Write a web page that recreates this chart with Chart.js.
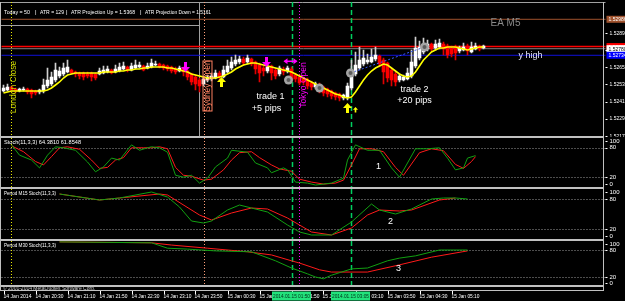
<!DOCTYPE html>
<html>
<head>
<meta charset="utf-8">
<title>EURAUD M5 with stochastics</title>
<script src="https://cdn.jsdelivr.net/npm/chart.js@4.4.1/dist/chart.umd.min.js"></script>
<style>
  html, body { margin: 0; padding: 0; background: #000; }
  #wrap { position: relative; width: 625px; height: 301px; background: #000; overflow: hidden; }
  #wrap canvas { position: absolute; left: 0; }
  .frame { position: absolute; background: #c0c0c0; }
</style>
</head>
<body>
<div id="wrap">
  <canvas id="main" width="625" height="137" style="top:0;width:625px;height:137px"></canvas>
  <canvas id="p1" width="625" height="51" style="top:137px;width:625px;height:51px"></canvas>
  <canvas id="p2" width="625" height="52" style="top:188px;width:625px;height:52px"></canvas>
  <canvas id="p3" width="625" height="61" style="top:240px;width:625px;height:61px"></canvas>
  <div class="frame" style="left:0;top:136px;width:604px;height:2px"></div>
  <div class="frame" style="left:0;top:187px;width:604px;height:2px"></div>
  <div class="frame" style="left:0;top:239px;width:604px;height:2px"></div>
  <div class="frame" style="left:0;top:285px;width:604px;height:1.5px"></div>
  <div class="frame" style="left:0;top:290px;width:604px;height:1px"></div>
  <div class="frame" style="left:0;top:2px;width:1px;height:288px"></div>
  <div class="frame" style="left:603px;top:2px;width:1px;height:288px"></div>
</div>
<script>
// 5 minute bars, 14 Jan 2014 19:50 .. 15 Jan 2014 05:50
const opens = [
  1.52484,1.52491,1.52512,1.52498,1.52484,1.52491,1.52498,1.52491,1.52484,1.52477,
  1.52484,1.52519,1.52533,1.52561,1.52589,1.52603,1.52617,1.52631,1.52617,1.52610,
  1.52610,1.52603,1.52610,1.52603,1.52603,1.52610,1.52617,1.52631,1.52617,1.52624,
  1.52638,1.52652,1.52631,1.52645,1.52652,1.52659,1.52645,1.52652,1.52666,1.52673,
  1.52666,1.52659,1.52652,1.52638,1.52624,1.52645,1.52624,1.52603,1.52582,1.52561,
  1.52533,1.52561,1.52568,1.52575,1.52610,1.52582,1.52617,1.52645,1.52673,1.52687,
  1.52708,1.52687,1.52708,1.52687,1.52666,1.52645,1.52624,1.52659,1.52631,1.52603,
  1.52638,1.52624,1.52638,1.52596,1.52582,1.52568,1.52561,1.52540,1.52512,1.52526,
  1.52512,1.52498,1.52484,1.52470,1.52463,1.52435,1.52442,1.52505,1.52603,1.52645,
  1.52673,1.52687,1.52687,1.52708,1.52729,1.52701,1.52680,1.52631,1.52603,1.52561,
  1.52561,1.52568,1.52589,1.52659,1.52715,1.52757,1.52778,1.52813,1.52785,1.52792,
  1.52813,1.52799,1.52785,1.52792,1.52764,1.52771,1.52799,1.52757,1.52778,1.52799,1.52785
];
const highs = [
  1.52526,1.52533,1.52519,1.52505,1.52505,1.52512,1.52505,1.52498,1.52491,1.52498,
  1.52568,1.52645,1.52617,1.52680,1.52652,1.52680,1.52701,1.52638,1.52624,1.52617,
  1.52617,1.52617,1.52617,1.52610,1.52645,1.52659,1.52659,1.52638,1.52666,1.52680,
  1.52687,1.52659,1.52680,1.52701,1.52687,1.52666,1.52680,1.52708,1.52694,1.52680,
  1.52673,1.52666,1.52659,1.52652,1.52659,1.52652,1.52631,1.52610,1.52596,1.52575,
  1.52589,1.52596,1.52610,1.52631,1.52624,1.52659,1.52701,1.52722,1.52736,1.52729,
  1.52722,1.52736,1.52715,1.52694,1.52680,1.52659,1.52666,1.52666,1.52645,1.52659,
  1.52652,1.52659,1.52652,1.52610,1.52596,1.52582,1.52575,1.52554,1.52547,1.52540,
  1.52519,1.52505,1.52491,1.52477,1.52470,1.52463,1.52540,1.52701,1.52757,1.52792,
  1.52771,1.52743,1.52778,1.52792,1.52736,1.52715,1.52687,1.52645,1.52617,1.52603,
  1.52596,1.52645,1.52771,1.52862,1.52834,1.52855,1.52841,1.52820,1.52841,1.52848,
  1.52827,1.52813,1.52799,1.52806,1.52799,1.52820,1.52813,1.52827,1.52820,1.52806,1.52806
];
const lows = [
  1.52477,1.52484,1.52477,1.52470,1.52477,1.52484,1.52463,1.52435,1.52456,1.52463,
  1.52470,1.52505,1.52519,1.52547,1.52575,1.52589,1.52610,1.52603,1.52582,1.52568,
  1.52561,1.52575,1.52554,1.52561,1.52596,1.52603,1.52610,1.52603,1.52610,1.52617,
  1.52631,1.52617,1.52624,1.52638,1.52645,1.52624,1.52638,1.52645,1.52659,1.52645,
  1.52631,1.52624,1.52610,1.52603,1.52617,1.52589,1.52561,1.52526,1.52491,1.52477,
  1.52519,1.52547,1.52554,1.52568,1.52561,1.52575,1.52610,1.52631,1.52659,1.52673,
  1.52666,1.52673,1.52659,1.52603,1.52547,1.52589,1.52610,1.52561,1.52568,1.52589,
  1.52596,1.52610,1.52547,1.52547,1.52526,1.52526,1.52498,1.52491,1.52498,1.52470,
  1.52449,1.52442,1.52428,1.52421,1.52414,1.52421,1.52421,1.52491,1.52589,1.52631,
  1.52659,1.52673,1.52680,1.52694,1.52652,1.52533,1.52547,1.52519,1.52519,1.52547,
  1.52554,1.52561,1.52575,1.52645,1.52701,1.52743,1.52764,1.52764,1.52771,1.52778,
  1.52736,1.52715,1.52722,1.52701,1.52750,1.52764,1.52736,1.52750,1.52771,1.52764,1.52778
];
const closes = [
  1.52505,1.52512,1.52491,1.52484,1.52498,1.52498,1.52477,1.52463,1.52470,1.52491,
  1.52526,1.52561,1.52582,1.52631,1.52624,1.52645,1.52652,1.52610,1.52603,1.52589,
  1.52582,1.52589,1.52582,1.52575,1.52624,1.52631,1.52638,1.52610,1.52638,1.52652,
  1.52659,1.52631,1.52659,1.52666,1.52666,1.52631,1.52659,1.52680,1.52673,1.52652,
  1.52645,1.52638,1.52624,1.52617,1.52645,1.52617,1.52582,1.52547,1.52533,1.52519,
  1.52568,1.52582,1.52589,1.52610,1.52582,1.52631,1.52659,1.52687,1.52701,1.52708,
  1.52680,1.52715,1.52673,1.52638,1.52610,1.52624,1.52652,1.52610,1.52589,1.52645,
  1.52617,1.52645,1.52561,1.52568,1.52540,1.52547,1.52519,1.52512,1.52533,1.52491,
  1.52470,1.52463,1.52449,1.52442,1.52435,1.52456,1.52519,1.52617,1.52666,1.52701,
  1.52715,1.52701,1.52722,1.52736,1.52673,1.52617,1.52575,1.52561,1.52547,1.52589,
  1.52582,1.52610,1.52687,1.52785,1.52792,1.52806,1.52813,1.52778,1.52813,1.52820,
  1.52778,1.52736,1.52743,1.52750,1.52785,1.52792,1.52764,1.52792,1.52799,1.52778,1.52799
];
const ma = [
  1.52470,1.52477,1.52484,1.52484,1.52484,1.52484,1.52484,1.52484,1.52484,1.52484,
  1.52484,1.52491,1.52505,1.52526,1.52547,1.52575,1.52596,1.52603,1.52610,1.52610,
  1.52610,1.52610,1.52610,1.52610,1.52610,1.52617,1.52617,1.52617,1.52617,1.52624,
  1.52624,1.52631,1.52631,1.52638,1.52638,1.52645,1.52645,1.52652,1.52652,1.52652,
  1.52652,1.52645,1.52645,1.52638,1.52631,1.52624,1.52617,1.52603,1.52596,1.52589,
  1.52582,1.52575,1.52575,1.52575,1.52582,1.52589,1.52603,1.52617,1.52638,1.52652,
  1.52666,1.52673,1.52680,1.52680,1.52673,1.52666,1.52659,1.52652,1.52645,1.52638,
  1.52631,1.52624,1.52617,1.52603,1.52589,1.52575,1.52561,1.52547,1.52533,1.52519,
  1.52505,1.52491,1.52477,1.52463,1.52456,1.52442,1.52435,1.52442,1.52477,1.52519,
  1.52561,1.52596,1.52624,1.52645,1.52659,1.52673,1.52666,1.52645,1.52624,1.52603,
  1.52589,1.52582,1.52589,1.52617,1.52659,1.52701,1.52729,1.52757,1.52771,1.52785,
  1.52785,1.52792,1.52792,1.52792,1.52785,1.52778,1.52771,1.52778,1.52785,1.52792,1.52792
];

// stochastic lines: bar index of each vertex and its value
const m5KBars = [2,4,7,9,11,13,15,18,21,23,25,27,29,32,34,36,37,39,41,43,45,47,49,51,53,56,57,61,63,66,67,70,71,73,76,78,82,85,86,88,91,94,97,99,103,106,109,111,113,115,116,118];
const m5K     = [86,65,55,39,65,82,80,75,51,31,41,59,55,86,75,80,82,80,71,24,20,24,8,18,41,59,75,71,49,39,29,39,35,10,8,4,8,18,55,86,75,75,39,20,78,78,80,59,35,39,59,64];
const m5DBars = [2,5,8,10,12,14,16,19,22,24,26,28,30,32,35,37,39,41,43,45,47,50,52,55,57,59,62,64,67,69,72,74,77,80,83,85,87,89,92,95,98,100,104,107,110,113,115,117,118];
const m5D     = [84,72,52,45,62,80,82,77,55,38,40,55,60,80,80,80,82,78,40,24,22,14,16,35,55,70,72,60,45,37,32,16,10,6,8,14,45,78,78,72,40,24,70,78,74,46,38,52,62];
const m15KBars = [14,24,29,37,41,44,47,50,52,56,59,62,66,71,74,77,82,87,92,94,98,102,107,110,113,116];
const m15K     = [90,78,82,94,84,64,36,32,36,58,68,62,54,28,14,8,8,34,70,58,50,60,80,82,82,80];
const m15DBars = [14,24,29,39,41,49,52,57,62,66,71,74,77,82,87,91,94,99,102,109,113];
const m15D     = [90,78,82,90,88,48,38,52,62,60,42,28,14,8,22,48,58,56,58,78,82];
const m30KBars = [14,37,41,46,53,62,68,72,76,78,80,82,87,91,96,99,103,109,116];
const m30K     = [98,96,84,82,78,76,56,40,27,20,16,24,38,40,56,62,67,80,80];
const m30DBars = [14,37,42,51,61,67,72,74,79,82,91,99,107,116];
const m30D     = [98,96,91,84,76,69,56,51,36,31,31,47,64,78];

// axes
const priceTicks = [1.52170, 1.52290, 1.52410, 1.52530, 1.52650, 1.52770, 1.52890];
const stochTicks = [100, 80, 20, 0];
const stochLevels = [80, 20];
const timeTickBars = [0, 8, 16, 24, 32, 40, 48, 56, 64, 72, 80, 88, 96, 104, 112];
const timeLabels = ['14 Jan 2014', '14 Jan 20:30', '14 Jan 21:10', '14 Jan 21:50', '14 Jan 22:30', '14 Jan 23:10',
  '14 Jan 23:50', '15 Jan 00:30', '15 Jan 01:10', '15 Jan 01:50', '15 Jan 02:30', '15 Jan 03:10',
  '15 Jan 03:50', '15 Jan 04:30', '15 Jan 05:10'];

// horizontal levels: EA M5, red level, bid, y high
const levelPrices = [1.52986, 1.52795, 1.52780, 1.52734];
// vertical lines: London Close, Sydney Open, entry 1, Tokyo Open, entry 2
const markerBars = [1.75, 50, 72, 73.75, 86.75];
const markerTimes = ['', '', '2014.01.15 01:50', '', '2014.01.15 03:05'];

// trade objects
const tradeBars = [71.25, 79, 86.75, 105.25];
const tradePrices = [1.52561, 1.52505, 1.52610, 1.52792];
const sellBars = [45.5, 65.75];
const sellPrices = [1.52617, 1.52652];
const buyBars = [54.5, 86];
const buyPrices = [1.52582, 1.52400];
const noteTexts = ['trade 1', '+5 pips', 'trade 2', '+20 pips', 'EA M5', 'y high'];
const noteBars = [66.75, 65.75, 102.75, 102.75, 125.5, 131.75];
const notePrices = [1.52442, 1.52358, 1.52491, 1.52414, 1.52960, 1.52729];
const sessionTexts = ['London Close', 'Sydney Open', 'Tokyo Open'];
const sessionBars = [2.6, 51, 75];
const sessionPrices = [1.52512, 1.52519, 1.52526];

const FONT = '"Liberation Sans", Arial, sans-serif';
const levelStyle = [
  { color: '#a0522d', width: 1, tag: '#a0522d', text: '#ffffff' },
  { color: '#ff0000', width: 1.5, tag: '#ff0000', text: '#ffffff' },
  { color: '#808080', width: 1, tag: '#ffffff', text: '#000000' },
  { color: '#1010d8', width: 1, tag: '#0000ff', text: '#ffffff' }
];
const markerStyle = [
  { color: '#e6e600', width: 1, dash: [1, 2] },
  { color: '#ffa07a', width: 1, dash: [1, 2] },
  { color: '#00d060', width: 1.5, dash: [5, 3] },
  { color: '#ff00ff', width: 1, dash: [1, 2] },
  { color: '#00d060', width: 1.5, dash: [5, 3] }
];
const sessionColors = ['#c8d200', '#ff8060', '#ff00ff'];

const barIdx = opens.map((_, i) => i);
const isUp = barIdx.map(i => closes[i] >= opens[i]);

function pairs(bars, vals) { return bars.map((b, i) => ({ x: b, y: vals[i] })); }

function hline(ctx, y, x0, x1, color, width, dash) {
  ctx.strokeStyle = color; ctx.lineWidth = width; ctx.setLineDash(dash || []);
  ctx.beginPath(); ctx.moveTo(x0, y); ctx.lineTo(x1, y); ctx.stroke();
}
function vline(ctx, x, y0, y1, color, width, dash) {
  ctx.strokeStyle = color; ctx.lineWidth = width; ctx.setLineDash(dash || []);
  ctx.beginPath(); ctx.moveTo(x, y0); ctx.lineTo(x, y1); ctx.stroke();
}
function drawMarkers(chart) {
  const { ctx, chartArea: a, scales: { x } } = chart;
  markerBars.forEach((b, k) => {
    const px = Math.round(x.getPixelForValue(b)) + 0.5;
    const s = markerStyle[k];
    vline(ctx, px, a.top, a.bottom, s.color, s.width, s.dash);
  });
  ctx.setLineDash([]);
}
function arrow(ctx, x, tipY, dir, color, s) {
  // dir = 1 points down, -1 points up
  ctx.fillStyle = color;
  ctx.beginPath();
  ctx.moveTo(x, tipY);
  ctx.lineTo(x - 4.5 * s, tipY - dir * 5 * s);
  ctx.lineTo(x - 1.5 * s, tipY - dir * 5 * s);
  ctx.lineTo(x - 1.5 * s, tipY - dir * 10 * s);
  ctx.lineTo(x + 1.5 * s, tipY - dir * 10 * s);
  ctx.lineTo(x + 1.5 * s, tipY - dir * 5 * s);
  ctx.lineTo(x + 4.5 * s, tipY - dir * 5 * s);
  ctx.closePath();
  ctx.fill();
}

const xScale = {
  type: 'linear', min: -0.5, max: 150.5, offset: false, display: false,
  afterBuildTicks: s => { s.ticks = timeTickBars.map(v => ({ value: v })); }
};

const mainDecor = {
  id: 'mainDecor',
  beforeDatasetsDraw(chart) {
    const { ctx, chartArea: a, scales: { y } } = chart;
    ctx.save();
    // window border and info box
    hline(ctx, 2.5, 0, a.right, '#a0a0a0', 1);
    hline(ctx, 25.5, 1, 199.5, '#a0a0a0', 1);
    vline(ctx, 199.5, 2.5, a.bottom, '#a0a0a0', 1);
    levelPrices.forEach((v, k) => {
      const py = y.getPixelForValue(v);
      hline(ctx, py, a.left, a.right, levelStyle[k].color, levelStyle[k].width);
    });
    drawMarkers(chart);
    ctx.restore();
  },
  afterDatasetsDraw(chart) {
    const { ctx, scales: { x, y } } = chart;
    ctx.save();
    // trade 2 connection
    const p2 = [x.getPixelForValue(tradeBars[2]), y.getPixelForValue(tradePrices[2])];
    const p3 = [x.getPixelForValue(tradeBars[3]), y.getPixelForValue(tradePrices[3])];
    ctx.strokeStyle = '#3a5cff'; ctx.lineWidth = 1; ctx.setLineDash([2, 2]);
    ctx.beginPath(); ctx.moveTo(p2[0], p2[1]); ctx.lineTo(p3[0], p3[1]); ctx.stroke();
    ctx.setLineDash([]);
    tradeBars.forEach((b, k) => {
      const px = x.getPixelForValue(b), py = y.getPixelForValue(tradePrices[k]);
      ctx.fillStyle = '#a4a4a4'; ctx.beginPath(); ctx.arc(px, py, 4.5, 0, Math.PI * 2); ctx.fill();
      ctx.fillStyle = '#5c5c5c'; ctx.beginPath(); ctx.arc(px, py, 2, 0, Math.PI * 2); ctx.fill();
    });
    sellBars.forEach((b, k) => arrow(ctx, x.getPixelForValue(b), y.getPixelForValue(sellPrices[k]), 1, '#ff00ff', 1));
    buyBars.forEach((b, k) => arrow(ctx, x.getPixelForValue(b), y.getPixelForValue(buyPrices[k]), -1, '#ffff00', 1));
    arrow(ctx, x.getPixelForValue(88), y.getPixelForValue(1.52372), -1, '#ffff00', 0.55);
    // exit mark
    const ex = x.getPixelForValue(71.75), ey = y.getPixelForValue(1.52692);
    ctx.strokeStyle = '#ff00ff'; ctx.lineWidth = 1.5;
    ctx.beginPath(); ctx.moveTo(ex - 6, ey); ctx.lineTo(ex + 6, ey); ctx.stroke();
    ctx.fillStyle = '#ff00ff';
    ctx.beginPath(); ctx.moveTo(ex - 7, ey); ctx.lineTo(ex - 3, ey - 3); ctx.lineTo(ex - 3, ey + 3); ctx.fill();
    ctx.beginPath(); ctx.moveTo(ex + 7, ey); ctx.lineTo(ex + 3, ey - 3); ctx.lineTo(ex + 3, ey + 3); ctx.fill();
    // notes
    ctx.textAlign = 'center'; ctx.textBaseline = 'middle';
    noteTexts.forEach((t, k) => {
      ctx.fillStyle = k === 4 ? '#8a8a8a' : (k === 5 ? '#e6e6ff' : '#ffffff');
      ctx.font = (k === 4 ? 10 : 9) + 'px ' + FONT;
      ctx.fillText(t, x.getPixelForValue(noteBars[k]), y.getPixelForValue(notePrices[k]));
    });
    // session labels (vertical)
    sessionTexts.forEach((t, k) => {
      const px = x.getPixelForValue(sessionBars[k]), py = y.getPixelForValue(sessionPrices[k]);
      ctx.save();
      ctx.translate(px, py); ctx.rotate(-Math.PI / 2);
      ctx.font = '8.5px ' + FONT; ctx.fillStyle = sessionColors[k];
      ctx.fillText(t, 0, 0);
      if (k === 1) { ctx.strokeStyle = sessionColors[k]; ctx.lineWidth = 1; ctx.strokeRect(-25, -4.5, 50, 9); }
      ctx.restore();
    });
    // info line
    ctx.textAlign = 'left'; ctx.fillStyle = '#ffffff'; ctx.font = '6px ' + FONT;
    ctx.fillText('Today = 50', 4, 12, 26);
    ctx.fillText('|', 35, 12); ctx.fillText('ATR = 129', 40, 12, 24);
    ctx.fillText('|', 66, 12); ctx.fillText('ATR Projection Up = 1.5368', 71, 12, 64);
    ctx.fillText('|', 140, 12); ctx.fillText('ATR Projection Down = 1.5161', 145, 12, 66);
    ctx.restore();
  },
  afterDraw(chart) {
    const { ctx, chartArea: a, scales: { y } } = chart;
    ctx.save();
    ctx.font = '6px ' + FONT; ctx.textAlign = 'left'; ctx.textBaseline = 'middle';
    ctx.fillStyle = '#ffffff';
    priceTicks.forEach(v => {
      const py = y.getPixelForValue(v);
      ctx.fillRect(a.right, Math.round(py), 2, 1);
      ctx.fillText(v.toFixed(5), a.right + 4, py, 18);
    });
    levelPrices.forEach((v, k) => {
      const py = y.getPixelForValue(v), s = levelStyle[k];
      ctx.fillStyle = s.tag; ctx.fillRect(a.right + 1, py - 3.5, 20, 7);
      ctx.fillStyle = s.text; ctx.fillText(v.toFixed(5), a.right + 3, py + 0.5, 18);
    });
    ctx.restore();
  }
};

new Chart(document.getElementById('main'), {
  type: 'bar',
  data: {
    datasets: [
      { type: 'line', data: barIdx.map(i => ({ x: i, y: ma[i] })), borderColor: '#ffff00', borderWidth: 1.6,
        pointRadius: 0, tension: 0, order: 1 },
      { data: barIdx.map(i => ({ x: i, y: [opens[i], closes[i]] })),
        backgroundColor: barIdx.map(i => isUp[i] ? '#ffffff' : '#ff0000'),
        maxBarThickness: 3, minBarLength: 1, grouped: false, barPercentage: 1, categoryPercentage: 1, order: 2 },
      { data: barIdx.map(i => ({ x: i, y: [lows[i], highs[i]] })),
        backgroundColor: barIdx.map(i => isUp[i] ? '#cfcfcf' : '#e00000'),
        maxBarThickness: 1, grouped: false, barPercentage: 1, categoryPercentage: 1, order: 3 }
    ]
  },
  options: {
    responsive: false, animation: false, events: [],
    layout: { padding: { left: 1.5, right: 19.5, top: 2, bottom: 1 } },
    plugins: { legend: { display: false }, tooltip: { enabled: false } },
    scales: {
      x: xScale,
      y: { type: 'linear', min: 1.52169, max: 1.53107, display: false, beginAtZero: false }
    }
  },
  plugins: [mainDecor]
});

const stochTitles = ['Stoch(11,3,3) 64.3810 61.8548', 'Period M15 Stoch(11,3,3)', 'Period M30 Stoch(11,3,3)'];
const stochTitleWidths = [77, 52, 52];
const panelNumbers = ['1', '2', '3'];
const panelNumberBars = [93.75, 96.75, 98.75];
const panelNumberVals = [42, 34, 38];

function stochDecor(p) {
  return {
    id: 'stochDecor' + p,
    beforeDatasetsDraw(chart) {
      const { ctx, chartArea: a, scales: { y } } = chart;
      ctx.save();
      stochLevels.forEach(v => hline(ctx, Math.round(y.getPixelForValue(v)) + 0.5, a.left, a.right, '#9a9a9a', 1, [1, 2]));
      drawMarkers(chart);
      ctx.restore();
    },
    afterDatasetsDraw(chart) {
      const { ctx, chartArea: a, scales: { x, y } } = chart;
      ctx.save();
      ctx.textBaseline = 'middle'; ctx.textAlign = 'left';
      ctx.font = '6px ' + FONT; ctx.fillStyle = '#ffffff';
      ctx.fillText(stochTitles[p], 4, a.top + 4.5, stochTitleWidths[p]);
      ctx.textAlign = 'center'; ctx.font = '9px ' + FONT;
      ctx.fillText(panelNumbers[p], x.getPixelForValue(panelNumberBars[p]), y.getPixelForValue(panelNumberVals[p]));
      ctx.restore();
    },
    afterDraw(chart) {
      const { ctx, chartArea: a, scales: { x, y } } = chart;
      ctx.save();
      ctx.font = '6px ' + FONT; ctx.textAlign = 'left'; ctx.textBaseline = 'middle'; ctx.fillStyle = '#ffffff';
      stochTicks.forEach(v => {
        const py = Math.min(Math.max(y.getPixelForValue(v), a.top + 3), a.bottom - 3);
        ctx.fillRect(a.right, Math.round(py), 2, 1);
        ctx.fillText(String(v), a.right + 4, py);
      });
      if (p === 2) {
        ctx.fillStyle = '#c8c8c8'; ctx.font = '5px ' + FONT;
        ctx.fillText('\u00a9 2001-2014 MetaQuotes Software Corp.', 3, a.bottom + 2.5, 116);
        ctx.font = '6px ' + FONT;
        x.ticks.forEach((t, k) => {
          const px = Math.round(x.getPixelForValue(t.value)) + 0.5;
          vline(ctx, px, a.bottom + 5, a.bottom + 8, '#ffffff', 1);
          ctx.fillStyle = '#ffffff';
          ctx.fillText(timeLabels[k], px - 1, a.bottom + 10.5, 28);
        });
        markerTimes.forEach((t, k) => {
          if (!t) return;
          const px = x.getPixelForValue(markerBars[k]);
          ctx.fillStyle = '#22e27c'; ctx.fillRect(px - 19.5, a.bottom + 5.5, 39, 9);
          ctx.fillStyle = '#003018'; ctx.textAlign = 'center';
          ctx.fillText(t, px, a.bottom + 10.5, 37);
          ctx.textAlign = 'left';
        });
      }
      ctx.restore();
    }
  };
}

function stochChart(id, p, kBars, kVals, dBars, dVals, bottomPad) {
  new Chart(document.getElementById(id), {
    type: 'line',
    data: {
      datasets: [
        { data: pairs(kBars, kVals), borderColor: '#11a011', borderWidth: 1, pointRadius: 0, tension: 0 },
        { data: pairs(dBars, dVals), borderColor: '#ff1a1a', borderWidth: 1, pointRadius: 0, tension: 0 }
      ]
    },
    options: {
      responsive: false, animation: false, events: [],
      layout: { padding: { left: 1.5, right: 19.5, top: 1, bottom: bottomPad } },
      plugins: { legend: { display: false }, tooltip: { enabled: false } },
      scales: {
        x: xScale,
        y: { type: 'linear', min: 0, max: 100, display: false }
      }
    },
    plugins: [stochDecor(p)]
  });
}

stochChart('p1', 0, m5KBars, m5K, m5DBars, m5D, 1);
stochChart('p2', 1, m15KBars, m15K, m15DBars, m15D, 1);
stochChart('p3', 2, m30KBars, m30K, m30DBars, m30D, 15);
</script>
</body>
</html>
